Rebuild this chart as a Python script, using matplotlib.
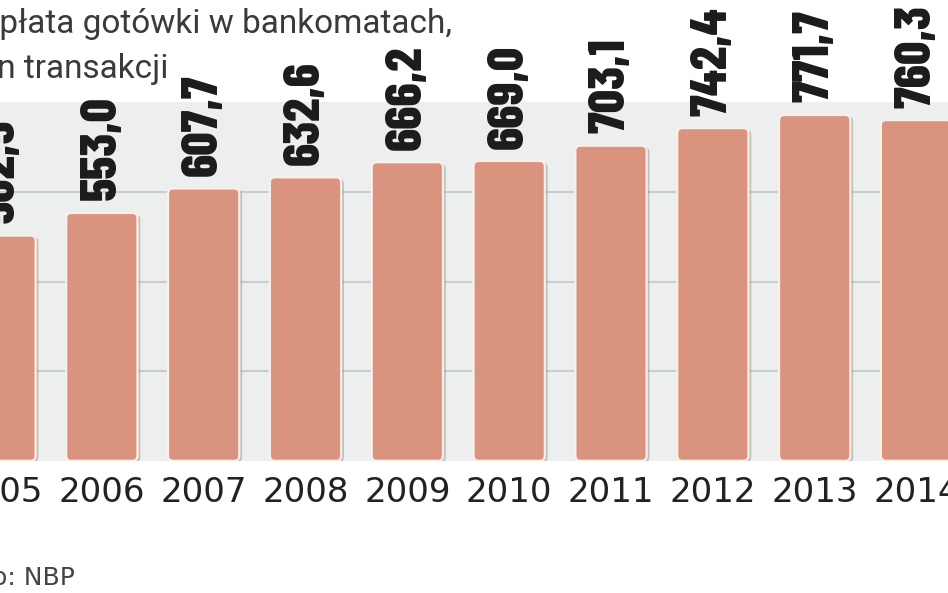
import matplotlib.pyplot as plt
import matplotlib.patheffects as pe
from matplotlib.patches import FancyBboxPatch

years = ['2005', '2006', '2007', '2008', '2009', '2010', '2011', '2012', '2013', '2014']
values = [502.5, 553.0, 607.7, 632.6, 666.2, 669.0, 703.1, 742.4, 771.7, 760.3]
value_labels = [f"{v:.1f}".replace('.', ',') for v in values]
grid_ticks = [200, 400, 600]

W, H = 948, 593
fig = plt.figure(figsize=(W / 100, H / 100), dpi=100)
ax_rect = [0, (H - 460.8) / H, 1, 358.5 / H]
ax = fig.add_axes(ax_rect)
ax.set_facecolor('#edefef')
xlim = (0.150, 9.309)
ylim = (0, 800)
ax.set_xlim(*xlim)
ax.set_ylim(*ylim)

# aspect so the rounded corners look round on screen
ux = (xlim[1] - xlim[0]) / (W * ax_rect[2])
uy = (ylim[1] - ylim[0]) / (H * ax_rect[3])
aspect = uy / ux

x = list(range(len(years)))
bars = ax.bar(x, values, width=0.7, color='#da937e')
for b in bars:
    b.set_visible(False)
    p = FancyBboxPatch((b.get_x(), b.get_y()), b.get_width(), b.get_height(),
                       boxstyle='round,pad=0,rounding_size=0.05',
                       mutation_aspect=aspect,
                       facecolor='#da937e', edgecolor='#fcefe6', linewidth=1.6,
                       zorder=3)
    p.set_path_effects([pe.SimplePatchShadow(offset=(2, -1), shadow_rgbFace='#7f8686', alpha=0.45),
                        pe.Normal()])
    ax.add_patch(p)

for i, (v, lab) in enumerate(zip(values, value_labels)):
    ax.annotate(lab, (i, v), xytext=(0, 9), textcoords='offset points',
                rotation=90, ha='center', va='bottom',
                fontsize=37, fontweight=800, family='Barlow Condensed',
                color='#1b1b1b', annotation_clip=False)

ax.set_yticks(grid_ticks)
ax.set_yticklabels([])
ax.yaxis.grid(True, color='#c9cdcd', linewidth=1.5, zorder=0)
ax.set_axisbelow(True)
ax.tick_params(axis='y', length=0)
ax.set_xticks(x, years, fontsize=24.5, color='#222222')
ax.tick_params(axis='x', length=0, pad=11)
for s in ax.spines.values():
    s.set_visible(False)

fig.text(452 / W, 1 - 33 / H, 'Wypłata gotówki w bankomatach,', ha='right', va='baseline',
         fontsize=24, family='Roboto', color='#3a3a3a')
fig.text(168 / W, 1 - 78 / H, 'mln transakcji', ha='right', va='baseline',
         fontsize=24, family='Roboto', color='#3a3a3a')
fig.text(75 / W, 1 - 585 / H, 'Źródło: NBP', ha='right', va='baseline',
         fontsize=18, family='DejaVu Sans', color='#444444')

fig.savefig('out.png', dpi=100)
